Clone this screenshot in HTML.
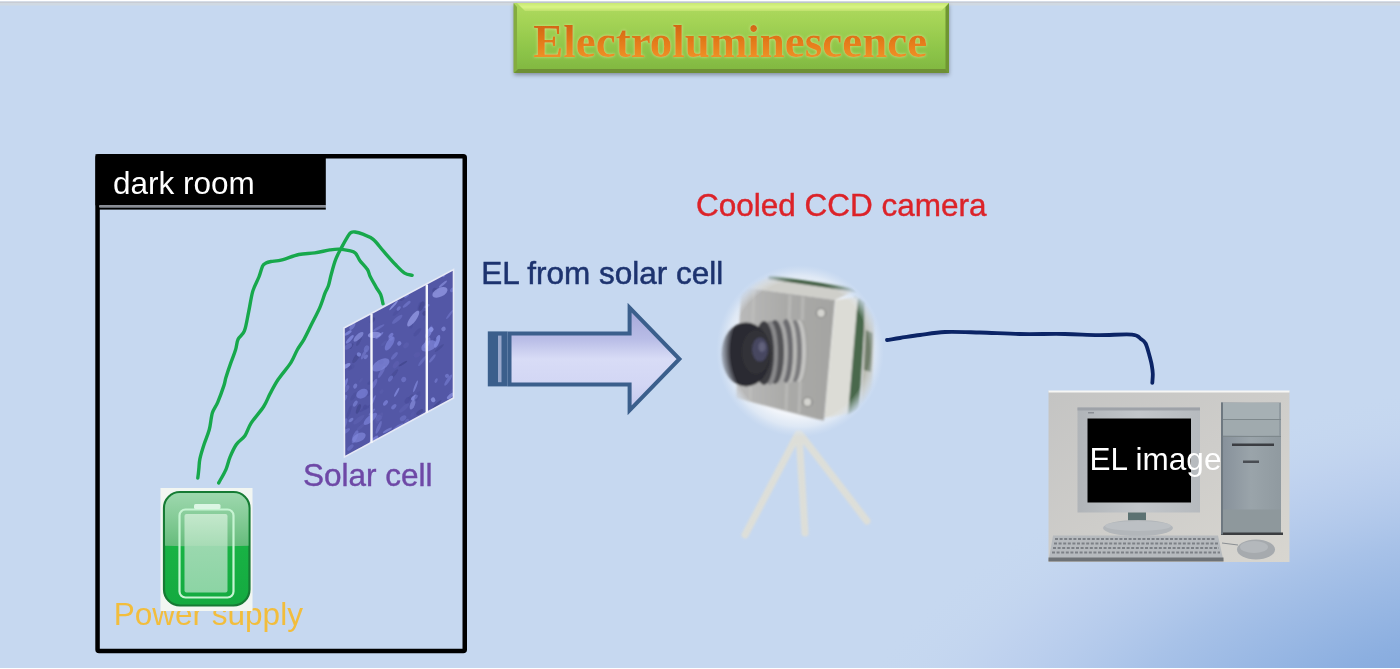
<!DOCTYPE html>
<html><head><meta charset="utf-8"><title>Electroluminescence</title>
<style>
html,body{margin:0;padding:0;width:1400px;height:669px;overflow:hidden;background:#c6d8f0;}
#s{position:absolute;left:0;top:0;width:1400px;height:669px;filter:blur(0.45px);}
text{font-family:"Liberation Sans",sans-serif;}
</style></head><body>
<svg id="s" width="1400" height="669" viewBox="0 0 1400 669">
<defs>
  <radialGradient id="bgBR" cx="0" cy="0" r="1" gradientUnits="userSpaceOnUse" gradientTransform="translate(1440 720) rotate(-12) scale(640 330)">
    <stop offset="0" stop-color="#7ca2d8"/>
    <stop offset="0.25" stop-color="#8cafe0"/>
    <stop offset="0.55" stop-color="#a8c2e8"/>
    <stop offset="0.8" stop-color="#bccfee" stop-opacity="0.7"/>
    <stop offset="1" stop-color="#c6d8f0" stop-opacity="0"/>
  </radialGradient>
  <linearGradient id="titleG" x1="0" y1="0" x2="0" y2="1">
    <stop offset="0" stop-color="#b0da60"/>
    <stop offset="0.3" stop-color="#a2d254"/>
    <stop offset="0.7" stop-color="#8cc448"/>
    <stop offset="1" stop-color="#80b640"/>
  </linearGradient>
  <linearGradient id="bevTop" x1="0" y1="0" x2="0" y2="1">
    <stop offset="0" stop-color="#c8e874"/>
    <stop offset="0.5" stop-color="#d8f484"/>
    <stop offset="1" stop-color="#bfe06c"/>
  </linearGradient>
  <linearGradient id="titleT" x1="0" y1="0" x2="0" y2="1">
    <stop offset="0" stop-color="#c85a0c"/>
    <stop offset="0.6" stop-color="#e8801c"/>
    <stop offset="1" stop-color="#f2a030"/>
  </linearGradient>
  <linearGradient id="arrowG" x1="0" y1="0" x2="0" y2="1">
    <stop offset="0" stop-color="#a4a6d8"/>
    <stop offset="0.3" stop-color="#b8bce6"/>
    <stop offset="0.5" stop-color="#d8dcf6"/>
    <stop offset="0.75" stop-color="#d2d6f4"/>
    <stop offset="1" stop-color="#c4c8ee"/>
  </linearGradient>
  <radialGradient id="glow" cx="0.5" cy="0.5" r="0.5">
    <stop offset="0" stop-color="#ffffff"/>
    <stop offset="0.75" stop-color="#f2f5fa"/>
    <stop offset="0.88" stop-color="#e4ecf6" stop-opacity="0.8"/>
    <stop offset="1" stop-color="#d8e4f4" stop-opacity="0"/>
  </radialGradient>
  <linearGradient id="batTop" x1="0" y1="0" x2="0" y2="1">
    <stop offset="0" stop-color="#a2dab2"/>
    <stop offset="0.5" stop-color="#86cc98"/>
    <stop offset="1" stop-color="#66bc7c"/>
  </linearGradient>
  <linearGradient id="batIn" x1="0" y1="0" x2="0" y2="1">
    <stop offset="0" stop-color="#c4e8cc"/>
    <stop offset="0.4" stop-color="#a8dcb6"/>
    <stop offset="0.41" stop-color="#9ad8ae"/>
    <stop offset="1" stop-color="#8cd4a4"/>
  </linearGradient>
  <linearGradient id="batBot" x1="0" y1="0" x2="0" y2="1">
    <stop offset="0" stop-color="#1cba48"/>
    <stop offset="1" stop-color="#14aa40"/>
  </linearGradient>
  <filter id="blur1" x="-10%" y="-10%" width="120%" height="120%"><feGaussianBlur stdDeviation="1"/></filter>
  <linearGradient id="faceG" x1="0" y1="0" x2="1" y2="0">
    <stop offset="0" stop-color="#bababa"/>
    <stop offset="0.5" stop-color="#aaaaa8"/>
    <stop offset="1" stop-color="#a4a4a2"/>
  </linearGradient>
  <radialGradient id="camMaskG" cx="800" cy="351" r="84" gradientUnits="userSpaceOnUse" gradientTransform="translate(800 351) scale(1 1.02) translate(-800 -351)">
    <stop offset="0" stop-color="#fff"/>
    <stop offset="0.82" stop-color="#fff"/>
    <stop offset="0.97" stop-color="#fff" stop-opacity="0"/>
  </radialGradient>
  <mask id="camMask" maskUnits="userSpaceOnUse" x="700" y="250" width="200" height="200"><rect x="700" y="250" width="200" height="200" fill="url(#camMaskG)"/></mask>
  <filter id="blur06" x="-2%" y="-2%" width="104%" height="104%"><feGaussianBlur stdDeviation="0.6"/></filter>
  <linearGradient id="pcBg" x1="0" y1="0" x2="1" y2="1">
    <stop offset="0" stop-color="#c4c4c3"/>
    <stop offset="0.5" stop-color="#cecdca"/>
    <stop offset="1" stop-color="#d8d6d0"/>
  </linearGradient>
  <linearGradient id="bezelG" x1="0" y1="0" x2="1" y2="0">
    <stop offset="0" stop-color="#b0b4b8"/>
    <stop offset="0.5" stop-color="#c2c6ca"/>
    <stop offset="1" stop-color="#b6babe"/>
  </linearGradient>
  <linearGradient id="towerG" x1="0" y1="0" x2="1" y2="0">
    <stop offset="0" stop-color="#86909a"/>
    <stop offset="0.5" stop-color="#9aa4aa"/>
    <stop offset="1" stop-color="#909aa0"/>
  </linearGradient>
  <filter id="blur2"><feGaussianBlur stdDeviation="1.2"/></filter>
  <filter id="shadow" x="-10%" y="-20%" width="120%" height="160%"><feDropShadow dx="0" dy="2" stdDeviation="2" flood-color="#000" flood-opacity="0.35"/></filter>
  <filter id="tglow" x="-5%" y="-20%" width="110%" height="140%"><feGaussianBlur in="SourceAlpha" stdDeviation="1.5" result="b"/><feFlood flood-color="#e8f4a0" flood-opacity="0.7"/><feComposite in2="b" operator="in" result="g"/><feMerge><feMergeNode in="g"/><feMergeNode in="SourceGraphic"/></feMerge></filter>
</defs>

<!-- background -->
<rect x="0" y="0" width="1400" height="669" fill="#c6d8f0"/>
<rect x="0" y="0" width="1400" height="669" fill="url(#bgBR)"/>
<rect x="0" y="0" width="1400" height="1.5" fill="#ffffff"/>
<rect x="0" y="1.5" width="1400" height="1.5" fill="#c8ccd4"/>
<rect x="0" y="3" width="1400" height="2.5" fill="#d0d9e2"/>
<rect x="0" y="668" width="1400" height="1" fill="#ffffff"/>

<!-- title -->
<g>
  <rect x="514" y="3" width="435" height="70" fill="url(#titleG)" filter="url(#shadow)"/>
  <polygon points="517,3 949,3 941,11 525,11" fill="url(#bevTop)"/>
  <polygon points="513.5,3 517,7 517,69 513.5,73" fill="#84ac40"/>
  <polygon points="949,3 949,73 945.5,69 945.5,7" fill="#6f9632"/>
  <polygon points="514,73 949,73 945.5,69 518,69" fill="#6e8f34"/>
</g>
<text transform="translate(533.3 56.6) scale(1 1.02)" x="0" y="0" font-family="Liberation Serif" font-weight="bold" font-size="45" fill="url(#titleT)" filter="url(#tglow)" style="font-family:'Liberation Serif',serif">Electroluminescence</text>

<!-- dark room box -->
<rect x="97.55" y="156.25" width="367.2" height="494.8" rx="1.5" fill="none" stroke="#000" stroke-width="4.5"/>
<rect x="95.5" y="154.2" width="230.3" height="51.1" fill="#000"/>
<rect x="99" y="205.3" width="226.8" height="2.3" fill="#8a8c92"/>
<rect x="97" y="207.6" width="228.8" height="2" fill="#000"/>
<text x="113" y="194" font-size="31.5" fill="#ffffff">dark room</text>

<!-- solar cell -->
<g>
  <clipPath id="cellClip"><polygon points="344,328 453.5,269.5 453.5,398 344.5,457"/></clipPath>
  <polygon points="344,328 453.5,269.5 453.5,398 344.5,457" fill="#5357a6"/>
  <g clip-path="url(#cellClip)" filter="url(#blur06)">
<ellipse cx="393.8" cy="374.4" rx="6.6" ry="1.7" transform="rotate(-50 393.8 374.4)" fill="#42468e" opacity="0.49"/>
<ellipse cx="432.4" cy="358.4" rx="5.1" ry="1.3" transform="rotate(-52 432.4 358.4)" fill="#848ce0" opacity="0.44"/>
<ellipse cx="433.1" cy="399.8" rx="2.2" ry="2.5" transform="rotate(-31 433.1 399.8)" fill="#9098e6" opacity="0.73"/>
<ellipse cx="415.5" cy="386.4" rx="6.2" ry="1.1" transform="rotate(-69 415.5 386.4)" fill="#848ce0" opacity="0.67"/>
<ellipse cx="429.6" cy="330.0" rx="5.0" ry="1.3" transform="rotate(-61 429.6 330.0)" fill="#6e74c8" opacity="0.62"/>
<ellipse cx="416.9" cy="354.9" rx="3.4" ry="2.5" transform="rotate(-30 416.9 354.9)" fill="#5a5eae" opacity="0.44"/>
<ellipse cx="371.9" cy="412.0" rx="4.6" ry="1.0" transform="rotate(-47 371.9 412.0)" fill="#7a80d6" opacity="0.58"/>
<ellipse cx="437.1" cy="341.4" rx="6.8" ry="2.3" transform="rotate(-70 437.1 341.4)" fill="#848ce0" opacity="0.82"/>
<ellipse cx="349.8" cy="339.3" rx="5.5" ry="1.6" transform="rotate(-47 349.8 339.3)" fill="#848ce0" opacity="0.75"/>
<ellipse cx="373.7" cy="284.6" rx="3.7" ry="2.4" transform="rotate(-40 373.7 284.6)" fill="#7a80d6" opacity="0.46"/>
<ellipse cx="421.8" cy="270.1" rx="4.3" ry="1.7" transform="rotate(-43 421.8 270.1)" fill="#848ce0" opacity="0.60"/>
<ellipse cx="365.0" cy="407.1" rx="2.7" ry="2.0" transform="rotate(-65 365.0 407.1)" fill="#4a4e9c" opacity="0.85"/>
<ellipse cx="344.1" cy="432.2" rx="6.9" ry="1.9" transform="rotate(-30 344.1 432.2)" fill="#7a80d6" opacity="0.49"/>
<ellipse cx="387.4" cy="430.3" rx="5.2" ry="1.2" transform="rotate(-30 387.4 430.3)" fill="#848ce0" opacity="0.60"/>
<ellipse cx="345.1" cy="384.0" rx="6.2" ry="1.6" transform="rotate(-67 345.1 384.0)" fill="#848ce0" opacity="0.66"/>
<ellipse cx="370.7" cy="382.2" rx="3.9" ry="1.7" transform="rotate(-32 370.7 382.2)" fill="#4a4e9c" opacity="0.77"/>
<ellipse cx="358.9" cy="341.4" rx="5.1" ry="1.5" transform="rotate(-61 358.9 341.4)" fill="#42468e" opacity="0.51"/>
<ellipse cx="364.9" cy="408.5" rx="6.7" ry="1.3" transform="rotate(-32 364.9 408.5)" fill="#4a4e9c" opacity="0.67"/>
<ellipse cx="390.4" cy="287.7" rx="2.2" ry="2.4" transform="rotate(-60 390.4 287.7)" fill="#9098e6" opacity="0.58"/>
<ellipse cx="390.3" cy="439.9" rx="4.5" ry="1.8" transform="rotate(-33 390.3 439.9)" fill="#7a80d6" opacity="0.46"/>
<ellipse cx="396.7" cy="392.2" rx="5.1" ry="1.1" transform="rotate(-62 396.7 392.2)" fill="#848ce0" opacity="0.74"/>
<ellipse cx="351.6" cy="346.2" rx="3.2" ry="1.1" transform="rotate(-59 351.6 346.2)" fill="#42468e" opacity="0.66"/>
<ellipse cx="358.5" cy="336.8" rx="6.5" ry="2.5" transform="rotate(-44 358.5 336.8)" fill="#9098e6" opacity="0.63"/>
<ellipse cx="448.2" cy="380.1" rx="6.6" ry="1.7" transform="rotate(-56 448.2 380.1)" fill="#6e74c8" opacity="0.83"/>
<ellipse cx="346.3" cy="388.9" rx="4.4" ry="2.1" transform="rotate(-57 346.3 388.9)" fill="#7a80d6" opacity="0.43"/>
<ellipse cx="404.1" cy="408.0" rx="6.5" ry="2.1" transform="rotate(-42 404.1 408.0)" fill="#5a5eae" opacity="0.83"/>
<ellipse cx="381.6" cy="284.1" rx="4.4" ry="1.1" transform="rotate(-36 381.6 284.1)" fill="#5a5eae" opacity="0.41"/>
<ellipse cx="399.0" cy="270.8" rx="5.3" ry="1.6" transform="rotate(-70 399.0 270.8)" fill="#7a80d6" opacity="0.44"/>
<ellipse cx="414.3" cy="456.7" rx="6.4" ry="2.1" transform="rotate(-54 414.3 456.7)" fill="#9098e6" opacity="0.71"/>
<ellipse cx="394.4" cy="355.9" rx="4.7" ry="1.8" transform="rotate(-49 394.4 355.9)" fill="#6e74c8" opacity="0.67"/>
<ellipse cx="396.9" cy="311.7" rx="5.5" ry="1.7" transform="rotate(-45 396.9 311.7)" fill="#4a4e9c" opacity="0.52"/>
<ellipse cx="345.2" cy="325.2" rx="5.4" ry="1.3" transform="rotate(-63 345.2 325.2)" fill="#6e74c8" opacity="0.70"/>
<ellipse cx="392.6" cy="437.4" rx="3.6" ry="2.0" transform="rotate(-62 392.6 437.4)" fill="#4a4e9c" opacity="0.76"/>
<ellipse cx="427.0" cy="306.1" rx="3.1" ry="1.3" transform="rotate(-33 427.0 306.1)" fill="#848ce0" opacity="0.46"/>
<ellipse cx="398.6" cy="427.0" rx="6.2" ry="2.1" transform="rotate(-32 398.6 427.0)" fill="#6e74c8" opacity="0.77"/>
<ellipse cx="356.4" cy="357.6" rx="6.6" ry="2.2" transform="rotate(-55 356.4 357.6)" fill="#42468e" opacity="0.62"/>
<ellipse cx="378.7" cy="427.4" rx="6.9" ry="1.7" transform="rotate(-67 378.7 427.4)" fill="#7a80d6" opacity="0.53"/>
<ellipse cx="410.8" cy="396.9" rx="3.4" ry="1.5" transform="rotate(-44 410.8 396.9)" fill="#42468e" opacity="0.41"/>
<ellipse cx="358.9" cy="354.4" rx="2.1" ry="2.2" transform="rotate(-61 358.9 354.4)" fill="#848ce0" opacity="0.76"/>
<ellipse cx="452.2" cy="289.9" rx="2.5" ry="1.8" transform="rotate(-44 452.2 289.9)" fill="#6e74c8" opacity="0.83"/>
<ellipse cx="419.3" cy="305.9" rx="4.4" ry="1.3" transform="rotate(-70 419.3 305.9)" fill="#4a4e9c" opacity="0.64"/>
<ellipse cx="348.0" cy="311.0" rx="5.9" ry="1.8" transform="rotate(-32 348.0 311.0)" fill="#42468e" opacity="0.68"/>
<ellipse cx="427.2" cy="342.8" rx="6.0" ry="2.4" transform="rotate(-67 427.2 342.8)" fill="#9098e6" opacity="0.57"/>
<ellipse cx="393.6" cy="305.4" rx="6.4" ry="1.0" transform="rotate(-48 393.6 305.4)" fill="#9098e6" opacity="0.80"/>
<ellipse cx="431.6" cy="447.4" rx="4.3" ry="2.0" transform="rotate(-62 431.6 447.4)" fill="#9098e6" opacity="0.79"/>
<ellipse cx="431.8" cy="443.6" rx="2.6" ry="1.4" transform="rotate(-54 431.8 443.6)" fill="#7a80d6" opacity="0.84"/>
<ellipse cx="403.1" cy="418.2" rx="3.6" ry="2.4" transform="rotate(-36 403.1 418.2)" fill="#6e74c8" opacity="0.63"/>
<ellipse cx="348.1" cy="333.0" rx="4.1" ry="1.4" transform="rotate(-33 348.1 333.0)" fill="#848ce0" opacity="0.76"/>
<ellipse cx="351.0" cy="420.0" rx="2.9" ry="1.5" transform="rotate(-38 351.0 420.0)" fill="#848ce0" opacity="0.61"/>
<ellipse cx="454.0" cy="439.1" rx="4.6" ry="2.0" transform="rotate(-52 454.0 439.1)" fill="#4a4e9c" opacity="0.66"/>
<ellipse cx="419.8" cy="412.0" rx="4.2" ry="1.8" transform="rotate(-37 419.8 412.0)" fill="#42468e" opacity="0.69"/>
<ellipse cx="401.5" cy="428.3" rx="4.8" ry="1.5" transform="rotate(-55 401.5 428.3)" fill="#5a5eae" opacity="0.79"/>
<ellipse cx="411.0" cy="325.8" rx="2.7" ry="1.8" transform="rotate(-59 411.0 325.8)" fill="#4a4e9c" opacity="0.49"/>
<ellipse cx="402.9" cy="363.6" rx="5.0" ry="1.0" transform="rotate(-31 402.9 363.6)" fill="#42468e" opacity="0.81"/>
<ellipse cx="403.8" cy="456.0" rx="2.6" ry="1.1" transform="rotate(-63 403.8 456.0)" fill="#42468e" opacity="0.61"/>
<ellipse cx="445.3" cy="420.1" rx="4.0" ry="1.4" transform="rotate(-50 445.3 420.1)" fill="#6e74c8" opacity="0.60"/>
<ellipse cx="433.7" cy="439.1" rx="4.4" ry="1.5" transform="rotate(-62 433.7 439.1)" fill="#42468e" opacity="0.41"/>
<ellipse cx="372.6" cy="401.4" rx="6.9" ry="1.1" transform="rotate(-64 372.6 401.4)" fill="#7a80d6" opacity="0.71"/>
<ellipse cx="379.4" cy="335.5" rx="5.1" ry="1.2" transform="rotate(-41 379.4 335.5)" fill="#7a80d6" opacity="0.78"/>
<ellipse cx="412.6" cy="404.4" rx="5.5" ry="2.3" transform="rotate(-69 412.6 404.4)" fill="#9098e6" opacity="0.59"/>
<ellipse cx="402.2" cy="298.3" rx="3.0" ry="1.9" transform="rotate(-44 402.2 298.3)" fill="#42468e" opacity="0.50"/>
<ellipse cx="403.7" cy="379.5" rx="2.7" ry="2.4" transform="rotate(-45 403.7 379.5)" fill="#6e74c8" opacity="0.81"/>
<ellipse cx="378.7" cy="327.8" rx="6.6" ry="1.3" transform="rotate(-30 378.7 327.8)" fill="#7a80d6" opacity="0.46"/>
<ellipse cx="370.3" cy="406.0" rx="3.3" ry="1.1" transform="rotate(-37 370.3 406.0)" fill="#4a4e9c" opacity="0.64"/>
<ellipse cx="421.5" cy="306.1" rx="5.1" ry="2.2" transform="rotate(-66 421.5 306.1)" fill="#42468e" opacity="0.71"/>
<ellipse cx="444.3" cy="452.0" rx="2.6" ry="1.8" transform="rotate(-40 444.3 452.0)" fill="#42468e" opacity="0.85"/>
<ellipse cx="435.6" cy="420.5" rx="4.4" ry="1.0" transform="rotate(-40 435.6 420.5)" fill="#42468e" opacity="0.63"/>
<ellipse cx="406.6" cy="295.8" rx="2.9" ry="1.3" transform="rotate(-36 406.6 295.8)" fill="#6e74c8" opacity="0.82"/>
<ellipse cx="354.5" cy="279.8" rx="6.8" ry="1.7" transform="rotate(-39 354.5 279.8)" fill="#6e74c8" opacity="0.58"/>
<ellipse cx="390.9" cy="335.4" rx="3.1" ry="1.6" transform="rotate(-45 390.9 335.4)" fill="#7a80d6" opacity="0.78"/>
<ellipse cx="363.9" cy="354.3" rx="5.7" ry="1.6" transform="rotate(-62 363.9 354.3)" fill="#848ce0" opacity="0.44"/>
<ellipse cx="431.2" cy="329.5" rx="2.4" ry="2.3" transform="rotate(-35 431.2 329.5)" fill="#9098e6" opacity="0.82"/>
<ellipse cx="406.7" cy="304.3" rx="4.9" ry="1.5" transform="rotate(-40 406.7 304.3)" fill="#6e74c8" opacity="0.81"/>
<ellipse cx="425.9" cy="415.8" rx="6.1" ry="1.6" transform="rotate(-34 425.9 415.8)" fill="#42468e" opacity="0.71"/>
<ellipse cx="428.4" cy="413.4" rx="4.0" ry="2.1" transform="rotate(-67 428.4 413.4)" fill="#6e74c8" opacity="0.54"/>
<ellipse cx="355.1" cy="436.7" rx="7.0" ry="2.4" transform="rotate(-68 355.1 436.7)" fill="#6e74c8" opacity="0.83"/>
<ellipse cx="417.3" cy="332.2" rx="5.3" ry="1.9" transform="rotate(-49 417.3 332.2)" fill="#4a4e9c" opacity="0.63"/>
<ellipse cx="398.7" cy="308.5" rx="2.6" ry="1.6" transform="rotate(-47 398.7 308.5)" fill="#7a80d6" opacity="0.68"/>
<ellipse cx="425.3" cy="316.8" rx="4.0" ry="1.1" transform="rotate(-62 425.3 316.8)" fill="#4a4e9c" opacity="0.40"/>
<ellipse cx="372.4" cy="320.4" rx="3.7" ry="1.8" transform="rotate(-53 372.4 320.4)" fill="#42468e" opacity="0.66"/>
<ellipse cx="453.5" cy="389.2" rx="6.0" ry="1.1" transform="rotate(-46 453.5 389.2)" fill="#5a5eae" opacity="0.83"/>
<ellipse cx="386.5" cy="446.3" rx="3.9" ry="2.5" transform="rotate(-36 386.5 446.3)" fill="#42468e" opacity="0.68"/>
<ellipse cx="350.4" cy="447.6" rx="4.1" ry="1.8" transform="rotate(-46 350.4 447.6)" fill="#6e74c8" opacity="0.64"/>
<ellipse cx="397.2" cy="319.3" rx="6.6" ry="2.0" transform="rotate(-40 397.2 319.3)" fill="#7a80d6" opacity="0.41"/>
<ellipse cx="371.0" cy="276.1" rx="2.8" ry="2.1" transform="rotate(-54 371.0 276.1)" fill="#6e74c8" opacity="0.74"/>
<ellipse cx="349.5" cy="455.9" rx="6.7" ry="1.1" transform="rotate(-34 349.5 455.9)" fill="#4a4e9c" opacity="0.72"/>
<ellipse cx="371.6" cy="411.5" rx="2.2" ry="1.1" transform="rotate(-38 371.6 411.5)" fill="#4a4e9c" opacity="0.46"/>
<ellipse cx="449.6" cy="314.6" rx="5.5" ry="1.1" transform="rotate(-53 449.6 314.6)" fill="#7a80d6" opacity="0.49"/>
<ellipse cx="349.7" cy="368.3" rx="2.6" ry="1.7" transform="rotate(-43 349.7 368.3)" fill="#4a4e9c" opacity="0.67"/>
<ellipse cx="414.4" cy="397.6" rx="3.8" ry="2.1" transform="rotate(-37 414.4 397.6)" fill="#848ce0" opacity="0.83"/>
<ellipse cx="424.8" cy="313.3" rx="2.6" ry="2.3" transform="rotate(-39 424.8 313.3)" fill="#42468e" opacity="0.78"/>
<ellipse cx="374.2" cy="383.9" rx="5.6" ry="2.0" transform="rotate(-62 374.2 383.9)" fill="#6e74c8" opacity="0.74"/>
<ellipse cx="364.9" cy="315.3" rx="6.9" ry="2.4" transform="rotate(-35 364.9 315.3)" fill="#7a80d6" opacity="0.68"/>
<ellipse cx="345.0" cy="317.3" rx="2.1" ry="1.1" transform="rotate(-61 345.0 317.3)" fill="#6e74c8" opacity="0.43"/>
<ellipse cx="353.5" cy="396.5" rx="4.8" ry="1.9" transform="rotate(-55 353.5 396.5)" fill="#4a4e9c" opacity="0.56"/>
<ellipse cx="381.2" cy="361.9" rx="2.7" ry="2.3" transform="rotate(-38 381.2 361.9)" fill="#4a4e9c" opacity="0.76"/>
<ellipse cx="412.6" cy="414.1" rx="3.1" ry="1.6" transform="rotate(-60 412.6 414.1)" fill="#5a5eae" opacity="0.47"/>
<ellipse cx="360.9" cy="426.9" rx="5.0" ry="1.4" transform="rotate(-40 360.9 426.9)" fill="#5a5eae" opacity="0.81"/>
<ellipse cx="391.0" cy="338.2" rx="2.5" ry="2.3" transform="rotate(-67 391.0 338.2)" fill="#7a80d6" opacity="0.59"/>
<ellipse cx="406.5" cy="422.9" rx="4.3" ry="2.2" transform="rotate(-70 406.5 422.9)" fill="#6e74c8" opacity="0.50"/>
<ellipse cx="416.8" cy="283.5" rx="3.5" ry="2.1" transform="rotate(-42 416.8 283.5)" fill="#6e74c8" opacity="0.80"/>
<ellipse cx="368.1" cy="392.9" rx="3.6" ry="2.4" transform="rotate(-57 368.1 392.9)" fill="#4a4e9c" opacity="0.66"/>
<ellipse cx="445.0" cy="446.6" rx="6.6" ry="1.7" transform="rotate(-38 445.0 446.6)" fill="#6e74c8" opacity="0.61"/>
<ellipse cx="368.3" cy="451.9" rx="5.6" ry="1.8" transform="rotate(-67 368.3 451.9)" fill="#5a5eae" opacity="0.56"/>
<ellipse cx="384.0" cy="343.2" rx="3.9" ry="1.3" transform="rotate(-47 384.0 343.2)" fill="#5a5eae" opacity="0.58"/>
<ellipse cx="361.0" cy="380.3" rx="2.9" ry="1.1" transform="rotate(-52 361.0 380.3)" fill="#5a5eae" opacity="0.53"/>
<ellipse cx="346.4" cy="366.0" rx="4.7" ry="1.9" transform="rotate(-31 346.4 366.0)" fill="#9098e6" opacity="0.78"/>
<ellipse cx="390.5" cy="378.6" rx="3.5" ry="1.8" transform="rotate(-57 390.5 378.6)" fill="#6e74c8" opacity="0.73"/>
<ellipse cx="442.9" cy="284.1" rx="5.2" ry="1.2" transform="rotate(-40 442.9 284.1)" fill="#9098e6" opacity="0.59"/>
<ellipse cx="422.3" cy="360.9" rx="6.5" ry="1.5" transform="rotate(-52 422.3 360.9)" fill="#6e74c8" opacity="0.55"/>
<ellipse cx="450.5" cy="395.8" rx="4.5" ry="1.8" transform="rotate(-41 450.5 395.8)" fill="#9098e6" opacity="0.68"/>
<ellipse cx="349.1" cy="411.8" rx="6.9" ry="1.5" transform="rotate(-70 349.1 411.8)" fill="#4a4e9c" opacity="0.78"/>
<ellipse cx="441.8" cy="450.0" rx="5.2" ry="1.8" transform="rotate(-42 441.8 450.0)" fill="#5a5eae" opacity="0.45"/>
<ellipse cx="445.6" cy="442.0" rx="3.2" ry="1.2" transform="rotate(-45 445.6 442.0)" fill="#9098e6" opacity="0.48"/>
<ellipse cx="366.5" cy="348.7" rx="3.5" ry="2.5" transform="rotate(-68 366.5 348.7)" fill="#6e74c8" opacity="0.73"/>
<ellipse cx="377.4" cy="297.5" rx="6.6" ry="2.4" transform="rotate(-40 377.4 297.5)" fill="#7a80d6" opacity="0.66"/>
<ellipse cx="444.0" cy="274.9" rx="2.5" ry="1.3" transform="rotate(-61 444.0 274.9)" fill="#848ce0" opacity="0.67"/>
<ellipse cx="395.9" cy="364.6" rx="4.2" ry="2.3" transform="rotate(-54 395.9 364.6)" fill="#5a5eae" opacity="0.82"/>
<ellipse cx="412.9" cy="447.0" rx="4.8" ry="2.3" transform="rotate(-51 412.9 447.0)" fill="#4a4e9c" opacity="0.81"/>
<ellipse cx="381.6" cy="372.0" rx="6.8" ry="1.7" transform="rotate(-61 381.6 372.0)" fill="#7a80d6" opacity="0.50"/>
<ellipse cx="358.8" cy="419.7" rx="6.9" ry="2.2" transform="rotate(-39 358.8 419.7)" fill="#5a5eae" opacity="0.85"/>
<ellipse cx="416.3" cy="313.1" rx="2.1" ry="1.7" transform="rotate(-55 416.3 313.1)" fill="#5a5eae" opacity="0.51"/>
<ellipse cx="390.4" cy="434.2" rx="4.1" ry="2.2" transform="rotate(-64 390.4 434.2)" fill="#5a5eae" opacity="0.76"/>
<ellipse cx="358.4" cy="408.9" rx="5.1" ry="1.8" transform="rotate(-68 358.4 408.9)" fill="#42468e" opacity="0.75"/>
<ellipse cx="344.2" cy="424.1" rx="6.2" ry="2.2" transform="rotate(-67 344.2 424.1)" fill="#6e74c8" opacity="0.68"/>
<ellipse cx="402.1" cy="437.0" rx="5.5" ry="1.1" transform="rotate(-40 402.1 437.0)" fill="#42468e" opacity="0.79"/>
<ellipse cx="377.4" cy="418.0" rx="4.1" ry="2.4" transform="rotate(-66 377.4 418.0)" fill="#5a5eae" opacity="0.60"/>
<ellipse cx="348.1" cy="346.5" rx="4.5" ry="2.4" transform="rotate(-31 348.1 346.5)" fill="#6e74c8" opacity="0.54"/>
<ellipse cx="352.4" cy="326.1" rx="4.3" ry="2.1" transform="rotate(-56 352.4 326.1)" fill="#9098e6" opacity="0.46"/>
<ellipse cx="417.4" cy="396.4" rx="5.7" ry="2.2" transform="rotate(-65 417.4 396.4)" fill="#4a4e9c" opacity="0.41"/>
<ellipse cx="385.5" cy="402.9" rx="3.2" ry="1.8" transform="rotate(-52 385.5 402.9)" fill="#7a80d6" opacity="0.79"/>
<ellipse cx="436.9" cy="404.7" rx="6.5" ry="1.2" transform="rotate(-45 436.9 404.7)" fill="#42468e" opacity="0.74"/>
<ellipse cx="448.9" cy="411.4" rx="4.8" ry="1.1" transform="rotate(-62 448.9 411.4)" fill="#4a4e9c" opacity="0.73"/>
<ellipse cx="380.2" cy="447.6" rx="4.8" ry="2.1" transform="rotate(-57 380.2 447.6)" fill="#5a5eae" opacity="0.57"/>
<ellipse cx="355.2" cy="386.1" rx="2.7" ry="1.9" transform="rotate(-63 355.2 386.1)" fill="#848ce0" opacity="0.58"/>
<ellipse cx="436.1" cy="380.6" rx="2.5" ry="1.3" transform="rotate(-64 436.1 380.6)" fill="#7a80d6" opacity="0.60"/>
<ellipse cx="428.8" cy="332.9" rx="6.1" ry="2.4" transform="rotate(-64 428.8 332.9)" fill="#848ce0" opacity="0.75"/>
<ellipse cx="434.3" cy="341.3" rx="3.7" ry="1.6" transform="rotate(-69 434.3 341.3)" fill="#4a4e9c" opacity="0.68"/>
<ellipse cx="378.9" cy="417.9" rx="3.2" ry="2.5" transform="rotate(-49 378.9 417.9)" fill="#6e74c8" opacity="0.55"/>
<ellipse cx="381.6" cy="391.6" rx="2.5" ry="1.6" transform="rotate(-50 381.6 391.6)" fill="#5a5eae" opacity="0.53"/>
<ellipse cx="355.3" cy="403.6" rx="3.3" ry="1.8" transform="rotate(-58 355.3 403.6)" fill="#848ce0" opacity="0.56"/>
<ellipse cx="399.0" cy="294.9" rx="5.6" ry="2.5" transform="rotate(-49 399.0 294.9)" fill="#9098e6" opacity="0.72"/>
<ellipse cx="447.0" cy="375.8" rx="2.1" ry="2.0" transform="rotate(-39 447.0 375.8)" fill="#848ce0" opacity="0.51"/>
<ellipse cx="407.4" cy="400.4" rx="3.6" ry="2.4" transform="rotate(-56 407.4 400.4)" fill="#4a4e9c" opacity="0.80"/>
<ellipse cx="393.8" cy="406.7" rx="3.2" ry="1.9" transform="rotate(-48 393.8 406.7)" fill="#7a80d6" opacity="0.65"/>
<ellipse cx="373.1" cy="440.8" rx="7.0" ry="2.2" transform="rotate(-46 373.1 440.8)" fill="#7a80d6" opacity="0.82"/>
<ellipse cx="344.4" cy="398.2" rx="3.8" ry="2.1" transform="rotate(-55 344.4 398.2)" fill="#848ce0" opacity="0.48"/>
<ellipse cx="404.3" cy="282.5" rx="2.2" ry="1.3" transform="rotate(-31 404.3 282.5)" fill="#9098e6" opacity="0.46"/>
<ellipse cx="427.2" cy="429.0" rx="6.5" ry="1.9" transform="rotate(-44 427.2 429.0)" fill="#5a5eae" opacity="0.41"/>
<ellipse cx="365.9" cy="356.9" rx="2.7" ry="1.6" transform="rotate(-47 365.9 356.9)" fill="#848ce0" opacity="0.55"/>
<ellipse cx="358.5" cy="314.4" rx="6.7" ry="1.1" transform="rotate(-39 358.5 314.4)" fill="#9098e6" opacity="0.70"/>
<ellipse cx="359.9" cy="450.3" rx="5.0" ry="1.7" transform="rotate(-54 359.9 450.3)" fill="#42468e" opacity="0.81"/>
<ellipse cx="406.1" cy="345.3" rx="3.4" ry="2.3" transform="rotate(-51 406.1 345.3)" fill="#5a5eae" opacity="0.71"/>
<ellipse cx="434.8" cy="290.3" rx="2.6" ry="2.4" transform="rotate(-57 434.8 290.3)" fill="#42468e" opacity="0.59"/>
<ellipse cx="443.5" cy="328.9" rx="2.3" ry="2.1" transform="rotate(-34 443.5 328.9)" fill="#9098e6" opacity="0.57"/>
<ellipse cx="379.4" cy="418.0" rx="6.4" ry="2.3" transform="rotate(-60 379.4 418.0)" fill="#5a5eae" opacity="0.60"/>
<ellipse cx="399.3" cy="343.4" rx="2.3" ry="2.0" transform="rotate(-49 399.3 343.4)" fill="#848ce0" opacity="0.65"/>
<ellipse cx="416.3" cy="446.6" rx="6.4" ry="2.5" transform="rotate(-41 416.3 446.6)" fill="#5a5eae" opacity="0.70"/>
<ellipse cx="439.3" cy="348.1" rx="6.0" ry="1.3" transform="rotate(-40 439.3 348.1)" fill="#42468e" opacity="0.46"/>
<ellipse cx="351.9" cy="366.7" rx="2.6" ry="2.3" transform="rotate(-47 351.9 366.7)" fill="#4a4e9c" opacity="0.40"/>
<ellipse cx="374.4" cy="334.9" rx="6.6" ry="3.1" transform="rotate(-6 374.4 334.9)" fill="#9aa0ea" opacity="0.7"/>
<ellipse cx="389.7" cy="343.5" rx="7.9" ry="3.1" transform="rotate(-58 389.7 343.5)" fill="#7a82d8" opacity="0.7"/>
<ellipse cx="380.8" cy="364.8" rx="9.7" ry="5.0" transform="rotate(-32 380.8 364.8)" fill="#8088dc" opacity="0.7"/>
<ellipse cx="370.3" cy="418.9" rx="8.5" ry="3.1" transform="rotate(-41 370.3 418.9)" fill="#7a82d8" opacity="0.7"/>
<ellipse cx="439.9" cy="292.4" rx="8.2" ry="4.4" transform="rotate(-26 439.9 292.4)" fill="#9aa0ea" opacity="0.7"/>
<ellipse cx="413.2" cy="318.7" rx="9.4" ry="3.1" transform="rotate(-54 413.2 318.7)" fill="#9aa0ea" opacity="0.7"/>
<ellipse cx="431.8" cy="434.2" rx="6.4" ry="3.8" transform="rotate(-7 431.8 434.2)" fill="#7a82d8" opacity="0.7"/>
<ellipse cx="419.6" cy="430.7" rx="7.2" ry="3.2" transform="rotate(-47 419.6 430.7)" fill="#7a82d8" opacity="0.7"/>
<ellipse cx="362.1" cy="393.7" rx="6.3" ry="4.4" transform="rotate(-30 362.1 393.7)" fill="#7a82d8" opacity="0.7"/>
<ellipse cx="429.0" cy="345.9" rx="8.3" ry="4.8" transform="rotate(-25 429.0 345.9)" fill="#8088dc" opacity="0.7"/>
<ellipse cx="447.7" cy="424.3" rx="5.9" ry="3.5" transform="rotate(-52 447.7 424.3)" fill="#9aa0ea" opacity="0.7"/>
<ellipse cx="359.0" cy="437.5" rx="7.2" ry="4.1" transform="rotate(-28 359.0 437.5)" fill="#8088dc" opacity="0.7"/>
  </g>
  <polygon points="344,328 453.5,269.5 453.5,398 344.5,457" fill="none" stroke="#e6eaf6" stroke-width="1.6"/>
  <line x1="371.5" y1="314" x2="371.5" y2="443" stroke="#f4f6fb" stroke-width="2.4"/>
  <line x1="426.8" y1="284.5" x2="426.8" y2="413" stroke="#f4f6fb" stroke-width="2.4"/>
</g>
<text x="303" y="486" font-size="31.5" fill="#6e48a6" stroke="#6e48a6" stroke-width="0.4">Solar cell</text>

<!-- green wires -->
<g fill="none" stroke="#17a84c" stroke-width="3.4" stroke-linecap="round" stroke-linejoin="round">
  <path d="M197.8,478.0 C198.0,476.6 198.5,472.5 198.8,469.3 C199.2,466.1 199.0,463.0 199.9,458.8 C200.8,454.6 202.5,449.1 204.1,444.2 C205.7,439.3 207.9,434.7 209.3,429.5 C210.7,424.3 211.0,417.3 212.4,412.8 C213.8,408.3 215.8,406.8 217.7,402.3 C219.6,397.8 222.5,389.8 223.9,385.6 C225.3,381.4 224.9,380.7 226.0,377.2 C227.1,373.7 228.6,369.1 230.2,364.6 C231.8,360.1 234.2,354.2 235.5,350.0 C236.8,345.8 236.6,342.5 238.1,339.3 C239.6,336.1 242.7,335.4 244.4,330.9 C246.2,326.4 247.2,318.7 248.6,312.1 C250.0,305.5 251.1,297.0 252.8,291.1 C254.6,285.2 257.5,280.7 259.1,276.5 C260.7,272.3 261.5,268.2 262.6,266.0 C263.8,263.8 264.6,263.8 266.0,263.0 C267.4,262.2 268.3,262.0 271.0,261.5 C273.7,261.0 277.5,261.0 282.1,259.8 C286.7,258.6 293.3,255.7 298.8,254.5 C304.3,253.3 309.7,253.7 314.9,252.9 C320.1,252.1 325.9,250.5 329.9,249.9 C333.9,249.3 335.7,249.0 338.9,249.1 C342.1,249.2 346.6,250.0 349.3,250.6 C352.0,251.2 353.6,251.3 355.3,252.9 C357.1,254.5 357.8,257.7 359.8,260.4 C361.8,263.1 365.6,266.6 367.3,269.3 C369.1,272.0 368.8,273.8 370.3,276.8 C371.8,279.8 374.5,284.3 376.2,287.3 C377.9,290.3 379.6,292.0 380.7,294.7 C381.8,297.4 382.6,302.2 383.0,303.7"/>
  <path d="M218.7,482.9 C219.9,480.6 224.1,473.7 226.0,469.3 C227.9,464.9 228.4,460.9 230.2,456.7 C231.9,452.5 234.1,447.7 236.5,444.2 C238.9,440.7 242.5,439.3 244.9,435.8 C247.3,432.3 248.0,428.1 251.1,423.2 C254.2,418.3 260.6,411.4 263.7,406.5 C266.8,401.6 267.6,398.4 270.0,393.9 C272.4,389.4 274.8,384.5 278.3,379.3 C281.8,374.1 287.8,367.5 290.9,362.6 C294.0,357.7 295.0,353.9 297.2,350.0 C299.4,346.1 301.6,343.5 304.0,339.3 C306.4,335.1 308.8,329.8 311.4,324.6 C314.0,319.4 317.4,313.1 319.7,307.9 C322.0,302.7 323.6,296.9 325.0,293.2 C326.4,289.5 327.3,289.0 328.4,285.8 C329.5,282.6 330.1,278.3 331.4,273.8 C332.6,269.3 334.1,263.4 335.9,258.9 C337.6,254.4 339.9,250.7 341.9,246.9 C343.9,243.2 346.3,238.8 347.8,236.4 C349.3,234.0 349.8,233.2 351.0,232.5 C352.2,231.8 353.0,231.7 355.0,232.0 C357.0,232.3 359.8,233.0 362.8,234.2 C365.8,235.4 369.7,236.5 373.2,239.4 C376.7,242.3 379.9,247.2 383.7,251.4 C387.4,255.6 392.2,261.2 395.7,264.8 C399.2,268.4 401.9,271.4 404.6,273.1 C407.3,274.9 410.9,274.9 412.1,275.3"/>
</g>

<!-- power supply text (under battery) -->
<text x="113.8" y="625" font-size="31.5" fill="#f2bd3c">Power supply</text>

<!-- battery -->
<g>
  <rect x="160.5" y="488" width="92" height="123" fill="#f2f6f2"/>
  <rect x="164" y="492" width="85.5" height="113.5" rx="16" fill="url(#batBot)" stroke="#167a34" stroke-width="2.2"/>
  <clipPath id="batClip"><rect x="165" y="493" width="83.5" height="111.5" rx="15"/></clipPath>
  <g clip-path="url(#batClip)">
    <path d="M160,545.6 L160,488 L255,488 L255,545.6 Q207,547 160,545.6 Z" fill="url(#batTop)"/>
  </g>
  <rect x="179.5" y="509.5" width="54" height="88" rx="6" fill="none" stroke="#c6f4d2" stroke-width="2.2"/>
  <rect x="184.5" y="514" width="43" height="78.5" rx="2" fill="url(#batIn)"/>
  <rect x="194" y="504" width="26.5" height="5" rx="1.5" fill="#dcf6e4"/>
</g>

<!-- arrow -->
<g>
  <rect x="487.8" y="331.4" width="19.7" height="55" fill="#3b5f8c"/>
  <rect x="498" y="335.6" width="3.5" height="46.6" fill="#98a8cc"/>
  <path d="M509.5,333.4 L629.6,333.4 L629.6,307.6 L679.4,359 L629.6,410.4 L629.6,384.4 L509.5,384.4 Z" fill="url(#arrowG)" stroke="#3b5f8c" stroke-width="4" stroke-linejoin="miter" stroke-miterlimit="10"/>
</g>
<text x="481.2" y="283.8" font-size="31.5" fill="#1d336f" stroke="#1d336f" stroke-width="0.5">EL from solar cell</text>

<!-- camera -->
<text x="696" y="216" font-size="31.5" fill="#dc2329" stroke="#dc2329" stroke-width="0.4">Cooled CCD camera</text>
<g>
  <g stroke="#f0e4c6" stroke-width="7" stroke-linecap="round" opacity="0.56" filter="url(#blur1)">
    <line x1="798" y1="434" x2="745" y2="535"/>
    <line x1="799" y1="434" x2="805" y2="533"/>
    <line x1="800" y1="434" x2="867" y2="521"/>
  </g>
  <ellipse cx="800" cy="351" rx="84" ry="86" fill="url(#glow)"/>
  <g mask="url(#camMask)" filter="url(#blur1)">
    <!-- top strip / PCB top -->
    <polygon points="741,287 768,277 856,290 835,300" fill="#cfcfca"/>
    <polygon points="768,275 856,288 856,292 768,279" fill="#3e5c40"/>
    <!-- pcb -->
    <polygon points="855,296 866,302 859,410 847,415" fill="#4a684c"/>
    <polygon points="865,304 875,310 872,398 861,404" fill="#bcbeb6"/>
    <polygon points="866,330 873,333 871,372 864,370" fill="#707e6a"/>
    <!-- side face -->
    <polygon points="835.5,300 858,297 848,414 824.5,418" fill="#dcdcd6"/>
    <!-- front face -->
    <polygon points="741,287 835,300 824,421 736,398" fill="url(#faceG)"/>
    <g stroke="#c2c2c0" stroke-width="3" opacity="0.6">
      <line x1="754" y1="290" x2="750" y2="402"/>
      <line x1="790" y1="295" x2="786" y2="410"/>
      <line x1="803" y1="297" x2="799" y2="413"/>
    </g>
    <circle cx="821" cy="313" r="4.5" fill="#d4d4d0" stroke="#7e7e7c" stroke-width="1.2"/>
    <circle cx="807.5" cy="402" r="4.5" fill="#d4d4d0" stroke="#7e7e7c" stroke-width="1.2"/>
    <!-- lens ridges -->
    <ellipse cx="802" cy="351" rx="7" ry="31" fill="#a4a4a2"/>
    <ellipse cx="799" cy="351" rx="7" ry="31" fill="#c4c4c2"/>
    <ellipse cx="795" cy="351" rx="7" ry="31" fill="#7c7c7e"/>
    <ellipse cx="790" cy="351" rx="7" ry="32" fill="#b8b8b6"/>
    <ellipse cx="786" cy="351" rx="7" ry="32" fill="#6c6c70"/>
    <ellipse cx="780" cy="352" rx="8" ry="32" fill="#a8a8a8"/>
    <ellipse cx="775" cy="352" rx="9" ry="32" fill="#545458"/>
    <ellipse cx="770" cy="353" rx="8" ry="32" fill="#8a8a8c"/>
    <ellipse cx="764" cy="353" rx="10" ry="32" fill="#3e3e42"/>
    <!-- lens front -->
    <ellipse cx="746" cy="354.5" rx="25" ry="32" fill="#2c2c30"/>
    <ellipse cx="756" cy="352" rx="14" ry="22" fill="#323238"/>
    <ellipse cx="760" cy="349.5" rx="8" ry="12" fill="#464660"/>
    <ellipse cx="762" cy="347" rx="3.5" ry="5" fill="#62627c"/>
  </g>
</g>

<!-- blue cable -->
<path d="M887.0,340.0 C889.2,339.7 894.5,338.8 900.0,338.0 C905.5,337.2 912.5,336.0 920.0,335.0 C927.5,334.0 935.0,332.4 945.0,332.0 C955.0,331.6 967.5,332.2 980.0,332.5 C992.5,332.8 1005.9,333.8 1020.0,334.0 C1034.1,334.2 1051.7,333.8 1064.8,334.0 C1077.9,334.2 1087.3,335.0 1098.5,335.1 C1109.7,335.2 1125.0,333.9 1132.1,334.6 C1139.2,335.3 1138.8,337.6 1141.1,339.1 C1143.3,340.6 1144.3,341.1 1145.6,343.5 C1146.9,345.9 1147.9,350.1 1148.9,353.6 C1149.9,357.2 1151.1,361.4 1151.7,364.8 C1152.3,368.2 1152.7,370.8 1152.8,373.8 C1152.9,376.8 1152.4,381.3 1152.3,382.8" fill="none" stroke="#0b2466" stroke-width="3.8" stroke-linecap="round" stroke-linejoin="round"/>

<!-- computer -->
<g filter="url(#blur06)">
  <rect x="1048.5" y="391" width="241" height="171" fill="url(#pcBg)"/>
  <rect x="1048.5" y="390.5" width="241" height="2" fill="#f6f6f4"/>
  <!-- monitor -->
  <rect x="1077.5" y="407.5" width="122.5" height="105" fill="url(#bezelG)"/>
  <rect x="1077.5" y="407.5" width="122.5" height="3" fill="#9ea2a8"/>
  <rect x="1087.5" y="418.5" width="103.5" height="84" fill="#020202"/>
  <rect x="1088" y="412" width="6" height="1.5" fill="#8a8e94"/>
  <rect x="1128" y="512.5" width="18" height="8" fill="#5c7272"/>
  <ellipse cx="1138" cy="528" rx="35" ry="8" fill="#b2b6ba"/>
  <ellipse cx="1138" cy="526" rx="33" ry="5" fill="#bcc0c4"/>
  <!-- tower -->
  <rect x="1221" y="402.5" width="60" height="132" fill="url(#towerG)"/>
  <rect x="1222" y="403" width="57" height="16" fill="#a6b0b4"/>
  <rect x="1222" y="419.5" width="57" height="16" fill="#a0aaae"/>
  <rect x="1221" y="419" width="60" height="1" fill="#7e888c"/>
  <rect x="1221" y="436" width="60" height="1" fill="#7e888c"/>
  <rect x="1232" y="443.5" width="42" height="2.5" fill="#3a3e42"/>
  <rect x="1243" y="460.5" width="16" height="2.5" fill="#4a4e52"/>
  <rect x="1221" y="509.5" width="60" height="25" fill="#8e989c"/>
  <rect x="1221" y="532.5" width="62" height="2.5" fill="#3a3e40"/>
  <rect x="1221" y="402.5" width="2" height="132" fill="#6e7880"/>
  <!-- keyboard -->
  <polygon points="1053,535.5 1218,535.5 1223.5,561 1048.5,561" fill="#b6babe"/>
  <g stroke="#7c8086" stroke-width="1.8" stroke-dasharray="3 1.6">
    <line x1="1055" y1="539" x2="1216" y2="539"/>
    <line x1="1054" y1="543.5" x2="1218" y2="543.5"/>
    <line x1="1053" y1="548" x2="1219" y2="548"/>
    <line x1="1052" y1="552.5" x2="1220" y2="552.5"/>
  </g>
  <rect x="1048.5" y="557.5" width="175" height="4" fill="#6e7276"/>
  <!-- mouse -->
  <line x1="1222" y1="543" x2="1238" y2="545" stroke="#8a8e92" stroke-width="1"/>
  <ellipse cx="1256" cy="549.5" rx="19" ry="10" fill="#a6aaae"/>
  <ellipse cx="1254" cy="547" rx="14" ry="6" fill="#b4b8bc"/>
</g>
<text x="1089.5" y="470.3" font-size="31.5" fill="#ffffff">EL image</text>
</svg>
</body></html>
